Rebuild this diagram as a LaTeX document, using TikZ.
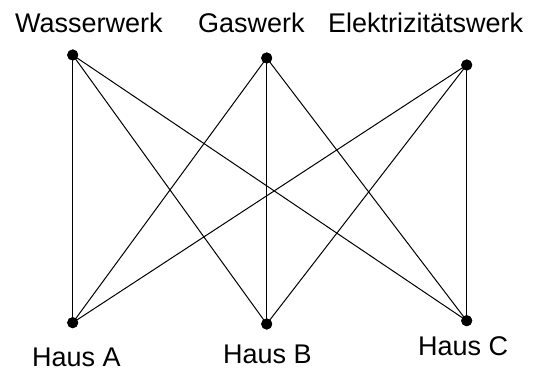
\documentclass[tikz,border=0pt]{standalone}
\usepackage{fontspec}
\setmainfont{Liberation Sans}
\begin{document}
\begin{tikzpicture}[x=1pt,y=-1pt,
  dot/.style={circle,fill=black,inner sep=0pt,minimum size=11pt},
  lbl/.style={anchor=base west,inner sep=0pt,font=\fontsize{27}{31}\selectfont},
  edge/.style={line width=1pt,black}]
\useasboundingbox (0,0) rectangle (540,371);
\fill[white] (0,0) rectangle (540,371);
\node[dot] (W) at (72.7,55) {};
\node[dot] (G) at (266.7,58) {};
\node[dot] (E) at (466.7,65) {};
\node[dot] (A) at (72.7,322.7) {};
\node[dot] (B) at (266.7,324) {};
\node[dot] (C) at (466.7,320.7) {};
\foreach \s in {W,G,E}{
  \foreach \t in {A,B,C}{
    \draw[edge] (\s.center) -- (\t.center);
  }
}
\node[dot] at (W) {};
\node[dot] at (G) {};
\node[dot] at (E) {};
\node[dot] at (A) {};
\node[dot] at (B) {};
\node[dot] at (C) {};
\node[lbl] (lW) at (15,33) {Wasserwerk};
\node[lbl] (lG) at (198,33) {Gaswerk};
\node[lbl] (lE) at (328,33) {Elektrizitätswerk};
\node[lbl] (lA) at (32,366.5) {Haus A};
\node[lbl] (lB) at (223,363) {Haus B};
\node[lbl] (lC) at (418,355) {Haus C};
\end{tikzpicture}
\end{document}
